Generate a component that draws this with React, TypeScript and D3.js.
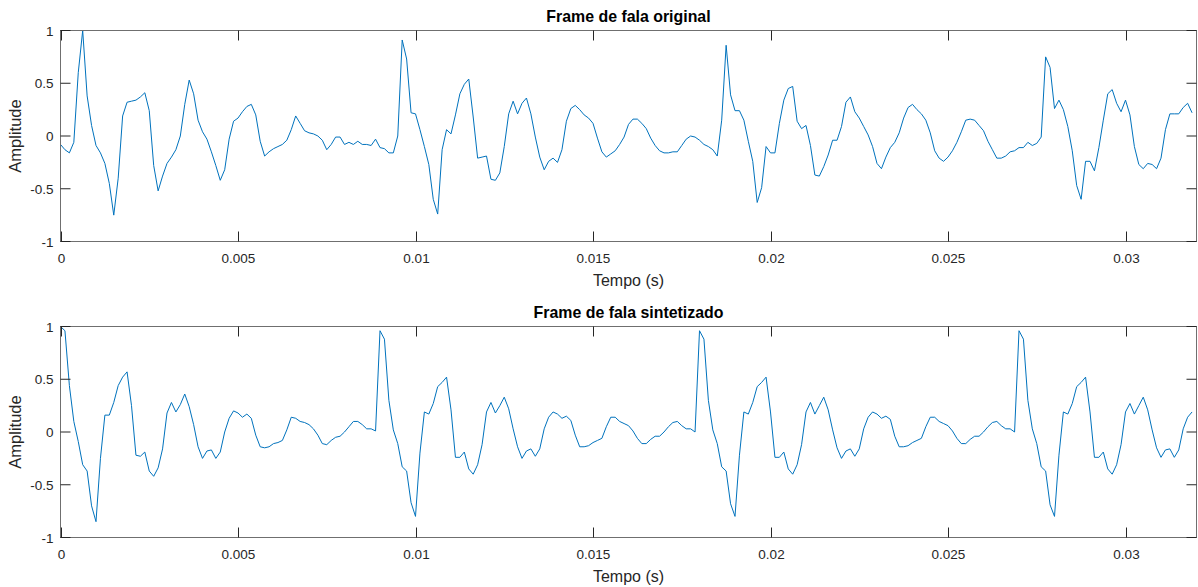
import React from "react";
import * as d3 from "d3";

const FS = 8000;
const xTicks = [0, 0.005, 0.01, 0.015, 0.02, 0.025, 0.03];
const xTickLabels = ["0", "0.005", "0.01", "0.015", "0.02", "0.025", "0.03"];
const yTicks = [-1, -0.5, 0, 0.5, 1];
const yTickLabels = ["-1", "-0.5", "0", "0.5", "1"];

const titles = ["Frame de fala original", "Frame de fala sintetizado"];
const xLabel = "Tempo (s)";
const yLabel = "Amplitude";

const original = [
  -0.08, -0.13, -0.16, -0.06, 0.6, 1.0, 0.38, 0.1, -0.09, -0.16,
  -0.26, -0.45, -0.75, -0.4, 0.19, 0.32, 0.33, 0.34, 0.37, 0.41,
  0.24, -0.28, -0.52, -0.38, -0.26, -0.2, -0.13, 0.0, 0.3, 0.53,
  0.4, 0.15, 0.04, -0.03, -0.15, -0.28, -0.42, -0.32, -0.03, 0.14,
  0.17, 0.23, 0.28, 0.3, 0.2, -0.05, -0.19, -0.15, -0.12, -0.1,
  -0.08, -0.04, 0.06, 0.19, 0.12, 0.05, 0.03, 0.02, 0.0, -0.04,
  -0.13, -0.08, -0.01, -0.01, -0.08, -0.06, -0.08, -0.05, -0.08, -0.08,
  -0.09, -0.03, -0.11, -0.12, -0.16, -0.16, 0.0, 0.91, 0.73, 0.22,
  0.21, 0.06, -0.1, -0.27, -0.6, -0.74, -0.13, 0.06, 0.02, 0.2,
  0.4, 0.49, 0.54, 0.18, -0.21, -0.2, -0.19, -0.41, -0.42, -0.35,
  -0.1, 0.21, 0.33, 0.21, 0.31, 0.36, 0.21, -0.01, -0.2, -0.32,
  -0.24, -0.21, -0.25, -0.13, 0.14, 0.26, 0.29, 0.25, 0.2, 0.17,
  0.12, -0.02, -0.15, -0.2, -0.17, -0.14, -0.08, -0.01, 0.11, 0.16,
  0.16, 0.12, 0.07, -0.02, -0.09, -0.14, -0.16, -0.16, -0.15, -0.15,
  -0.09, -0.03, 0.0, -0.01, -0.04, -0.08, -0.1, -0.13, -0.19, 0.15,
  0.86, 0.39, 0.24, 0.24, 0.15, -0.05, -0.24, -0.63, -0.49, -0.1,
  -0.16, -0.16, 0.12, 0.34, 0.45, 0.47, 0.14, 0.07, 0.1, -0.09,
  -0.37, -0.38, -0.29, -0.18, -0.04, -0.04, 0.09, 0.32, 0.37, 0.23,
  0.17, 0.09, 0.01, -0.1, -0.26, -0.31, -0.2, -0.11, -0.06, 0.03,
  0.17, 0.27, 0.3, 0.25, 0.21, 0.15, 0.03, -0.14, -0.21, -0.24,
  -0.2, -0.14, -0.06, 0.04, 0.15, 0.16, 0.15, 0.1, 0.05, -0.05,
  -0.13, -0.21, -0.21, -0.19, -0.15, -0.14, -0.11, -0.11, -0.06, -0.09,
  -0.07, -0.01, 0.75, 0.65, 0.26, 0.34, 0.25, 0.09, -0.14, -0.47,
  -0.6, -0.24, -0.24, -0.33, -0.11, 0.15, 0.4, 0.44, 0.31, 0.23,
  0.34, 0.2, -0.1, -0.27, -0.31, -0.26, -0.27, -0.31, -0.21, 0.06,
  0.21, 0.21, 0.21, 0.27, 0.31, 0.22,
];

const synthesized = [
  1.0, 0.96, 0.44, 0.1, -0.09, -0.31, -0.37, -0.7, -0.85, -0.25,
  0.16, 0.16, 0.28, 0.44, 0.52, 0.57, 0.25, -0.22, -0.23, -0.19,
  -0.37, -0.42, -0.34, -0.16, 0.18, 0.28, 0.19, 0.26, 0.36, 0.24,
  0.07, -0.14, -0.25, -0.18, -0.17, -0.25, -0.19, 0.0, 0.13, 0.2,
  0.18, 0.14, 0.17, 0.13, -0.03, -0.14, -0.15, -0.14, -0.11, -0.1,
  -0.08, 0.02, 0.14, 0.13, 0.1, 0.09, 0.07, 0.03, -0.03, -0.11,
  -0.12, -0.08, -0.05, -0.04, 0.0, 0.05, 0.1, 0.1, 0.07, 0.03,
  0.03, 0.01,
  0.96, 0.88, 0.3, 0.02, -0.11, -0.33, -0.37, -0.67, -0.8, -0.2,
  0.19, 0.17, 0.27, 0.43, 0.47, 0.52, 0.21, -0.24, -0.24, -0.19,
  -0.35, -0.4, -0.31, -0.12, 0.19, 0.28, 0.18, 0.25, 0.33, 0.22,
  0.03, -0.14, -0.25, -0.18, -0.16, -0.23, -0.16, 0.03, 0.14, 0.19,
  0.17, 0.13, 0.15, 0.11, -0.03, -0.14, -0.14, -0.13, -0.1, -0.08,
  -0.06, 0.05, 0.14, 0.14, 0.1, 0.08, 0.06, 0.01, -0.06, -0.11,
  -0.11, -0.07, -0.04, -0.04, 0.0, 0.05, 0.09, 0.1, 0.06, 0.03,
  0.03, 0.0,
  0.96, 0.88, 0.3, 0.02, -0.11, -0.33, -0.37, -0.68, -0.8, -0.22,
  0.19, 0.17, 0.28, 0.43, 0.47, 0.52, 0.19, -0.24, -0.24, -0.19,
  -0.35, -0.4, -0.31, -0.12, 0.19, 0.28, 0.17, 0.25, 0.33, 0.21,
  0.02, -0.15, -0.25, -0.18, -0.16, -0.23, -0.16, 0.03, 0.14, 0.19,
  0.17, 0.13, 0.15, 0.12, -0.04, -0.14, -0.14, -0.13,
  -0.1, -0.08, -0.06, 0.05, 0.14, 0.14, 0.1, 0.08, 0.06, 0.01,
  -0.06, -0.11, -0.11, -0.07, -0.04, -0.04, 0.0, 0.05, 0.09, 0.1,
  0.06, 0.03, 0.03, 0.0,
  0.96, 0.88, 0.3, 0.03, -0.11, -0.33, -0.37, -0.69, -0.8, -0.22,
  0.19, 0.17, 0.27, 0.43, 0.47, 0.52, 0.19, -0.24, -0.24, -0.19,
  -0.35, -0.4, -0.31, -0.12, 0.19, 0.27, 0.17, 0.25, 0.33, 0.21,
  0.02, -0.15, -0.24, -0.17, -0.16, -0.24, -0.17, 0.03, 0.14, 0.19,
];

const W = 1198;
const H = 587;
const LEFT = 60.5;
const RIGHT = 1196.5;
const panels = [
  { top: 30.5, bottom: 241.5, data: original, title: titles[0] },
  { top: 326.5, bottom: 537.5, data: synthesized, title: titles[1] },
];

const FONT = "'Liberation Sans', Arial, Helvetica, sans-serif";
const AXIS = "#6f6f6f";
const TEXT = "#262626";
const LINE = "#0072BD";
const TICK = 10;

function Panel({ top, bottom, data, title }: { top: number; bottom: number; data: number[]; title: string }) {
  const x = d3.scaleLinear().domain([0, 0.032]).range([LEFT, RIGHT]);
  const y = d3.scaleLinear().domain([-1, 1]).range([bottom, top]);
  const line = d3
    .line<number>()
    .x((_, i) => x(i / FS))
    .y((d) => y(d));
  const midX = (LEFT + RIGHT) / 2;
  const midY = (top + bottom) / 2;
  return (
    <g>
      <path d={line(data) || ""} fill="none" stroke={LINE} strokeWidth={1} strokeLinejoin="round" />
      <rect x={LEFT} y={top} width={RIGHT - LEFT} height={bottom - top} fill="none" stroke={AXIS} strokeWidth={1} />
      {xTicks.map((t, i) => {
        const px = Math.round(x(t)) + 0.5;
        return (
          <g key={"x" + i}>
            <line x1={px} x2={px} y1={bottom} y2={bottom - TICK} stroke={TEXT} strokeWidth={1} />
            <line x1={px} x2={px} y1={top} y2={top + TICK} stroke={TEXT} strokeWidth={1} />
            <text x={px} y={bottom + 21} textAnchor="middle" fontSize={13.5} fill={TEXT} fontFamily={FONT}>
              {xTickLabels[i]}
            </text>
          </g>
        );
      })}
      {yTicks.map((t, i) => {
        const py = y(t);
        return (
          <g key={"y" + i}>
            <line x1={LEFT} x2={LEFT + TICK} y1={py} y2={py} stroke={TEXT} strokeWidth={1} />
            <line x1={RIGHT} x2={RIGHT - TICK} y1={py} y2={py} stroke={TEXT} strokeWidth={1} />
            <text x={LEFT - 7} y={py + 5} textAnchor="end" fontSize={13.5} fill={TEXT} fontFamily={FONT}>
              {yTickLabels[i]}
            </text>
          </g>
        );
      })}
      <text x={midX} y={bottom + 44} textAnchor="middle" fontSize={16} fill={TEXT} fontFamily={FONT}>
        {xLabel}
      </text>
      <text
        transform={`translate(21,${midY}) rotate(-90)`}
        textAnchor="middle"
        fontSize={16.5}
        fill={TEXT}
        fontFamily={FONT}
      >
        {yLabel}
      </text>
      <text x={midX} y={top - 8.5} textAnchor="middle" fontSize={15.9} fontWeight="bold" fill="#000" fontFamily={FONT}>
        {title}
      </text>
    </g>
  );
}

export default function App() {
  return (
    <svg
      width={W}
      height={H}
      viewBox={`0 0 ${W} ${H}`}
      style={{ position: "absolute", left: 0, top: 0, background: "#fff" }}
    >
      <rect x={0} y={0} width={W} height={H} fill="#fff" />
      {panels.map((p, i) => (
        <Panel key={i} top={p.top} bottom={p.bottom} data={p.data} title={p.title} />
      ))}
    </svg>
  );
}
